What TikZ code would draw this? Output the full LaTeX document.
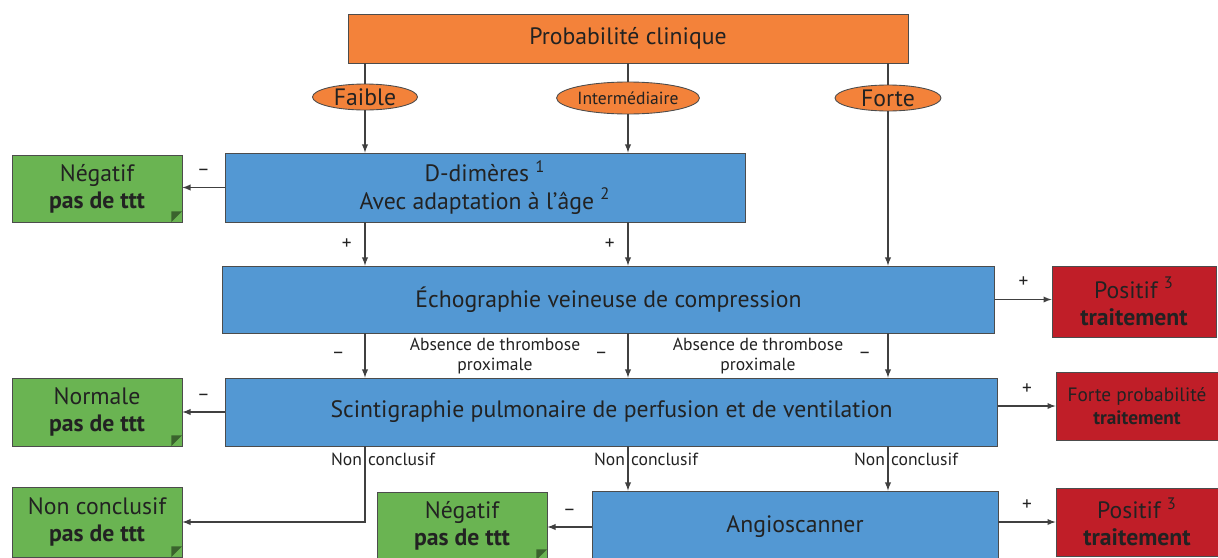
\documentclass[tikz,border=0pt]{standalone}
\usepackage{fontspec}
\setmainfont{PT Sans}
\usetikzlibrary{shapes.geometric}

\definecolor{probcol}{HTML}{F3823A}
\definecolor{examcol}{HTML}{5398D3}
\definecolor{negcol}{HTML}{6AB452}
\definecolor{poscol}{HTML}{C01E28}
\definecolor{txtcol}{HTML}{222222}

\newcommand{\bigtxt}{\fontsize{13.5}{15.5}\selectfont}
\newcommand{\midtxt}{\fontsize{10}{11.5}\selectfont}

\begin{document}
\begin{tikzpicture}[x=0.02cm, y=-0.02cm, >=latex,
  box/.style={draw=black!70, line width=0.5pt, inner sep=0pt, align=center, text=txtcol, font=\bigtxt},
  probbox/.style={box, fill=probcol},
  exambox/.style={box, fill=examcol},
  negbox/.style={box, fill=negcol, minimum width=3.4cm,
    path picture={\fill[negcol!55!black] ([xshift=-6pt]path picture bounding box.south east)
      -- ([yshift=6pt]path picture bounding box.south east)
      -- ([xshift=-6pt,yshift=6pt]path picture bounding box.south east) -- cycle;}},
  posbox/.style={box, fill=poscol},
  level/.style={ellipse, draw=black!70, line width=0.5pt, fill=probcol, inner sep=0pt, text=txtcol},
  link/.style={draw=black!75, line width=0.6pt},
  sign/.style={text=txtcol, font=\fontsize{11}{12}\selectfont},
  note/.style={text=txtcol, font=\midtxt, align=center}]

 \useasboundingbox (0,0) rectangle (1218,558);

 % probabilite clinique
 \node[probbox, minimum width=11.2cm, minimum height=0.98cm] (prob) at (628,38.5) {Probabilité clinique};
 \node[level, minimum width=2.1cm, minimum height=0.52cm, font=\bigtxt] (fa) at (365,97) {Faible};
 \node[level, minimum width=2.48cm, minimum height=0.64cm, font=\fontsize{10}{12}\selectfont] (im) at (628,98) {Intermédiaire};
 \node[level, minimum width=2.12cm, minimum height=0.52cm, font=\bigtxt] (fo) at (888,98) {Forte};

 % examens
 \node[exambox, minimum width=10.4cm, minimum height=1.38cm] (dd) at (485,187.5)
   {D-dimères \textsuperscript{1}\\Avec adaptation à l’âge \textsuperscript{2}};
 \node[exambox, minimum width=15.46cm, minimum height=1.34cm] (echo) at (608.5,299.5)
   {Échographie veineuse de compression};
 \node[exambox, minimum width=15.46cm, minimum height=1.36cm] (sc) at (611.5,412)
   {Scintigraphie pulmonaire de perfusion et de ventilation};
 \node[exambox, minimum width=8.12cm, minimum height=1.44cm] (angio) at (795,527) {Angioscanner};

 % resultats
 \node[negbox, minimum height=1.34cm] (neg1) at (97,188.5) {Négatif\\\textbf{pas de ttt}};
 \node[negbox, minimum height=1.36cm] (norm) at (97,412) {Normale\\\textbf{pas de ttt}};
 \node[negbox, minimum height=1.4cm] (nc) at (97,522) {Non conclusif\\\textbf{pas de ttt}};
 \node[negbox, minimum height=1.36cm] (neg2) at (462,526) {Négatif\\\textbf{pas de ttt}};
 \node[posbox, minimum width=3.28cm, minimum height=1.42cm] (pos1) at (1134,301.5) {Positif \textsuperscript{3}\\\textbf{traitement}};
 \node[posbox, minimum width=3.24cm, minimum height=1.36cm, font=\fontsize{11}{13}\selectfont] (fp) at (1137,406) {Forte probabilité\\\textbf{traitement}};
 \node[posbox, minimum width=3.24cm, minimum height=1.36cm] (pos2) at (1137,522) {Positif \textsuperscript{3}\\\textbf{traitement}};

 % liens
 \draw[link] (prob.south -| fa) -- (fa.north);
 \draw[link] (prob.south -| im) -- (im.north);
 \draw[link] (prob.south -| fo) -- (fo.north);
 \draw[link, ->] (fa.south) -- (dd.north -| fa);
 \draw[link, ->] (im.south) -- (dd.north -| im);
 \draw[link, ->] (fo.south) -- (echo.north -| fo);

 \draw[link, ->] (dd.west) -- (neg1.east |- dd.west) node[sign, midway, above=3pt] {–};
 \draw[link, ->] (dd.south -| fa) -- (echo.north -| fa) node[sign, midway, left=4pt] {+};
 \draw[link, ->] (dd.south -| im) -- (echo.north -| im) node[sign, midway, left=4pt] {+};

 \draw[link, ->] (echo.east) -- (echo.east -| pos1.west) node[sign, midway, above=3pt] {+};
 \draw[link, ->] (echo.south -| fa) -- (sc.north -| fa) node[sign, midway, left=8pt] {–};
 \draw[link, ->] (echo.south -| im) -- (sc.north -| im) node[sign, midway, left=8pt] {–};
 \draw[link, ->] (echo.south -| fo) -- (sc.north -| fo) node[sign, midway, left=6pt] {–};
 \node[note] (abs1) at (495,356) {Absence de thrombose\\proximale};
 \node[note] (abs2) at (758,356) {Absence de thrombose\\proximale};

 \draw[link, ->] (sc.west) -- (norm.east) node[sign, midway, above=3pt] {–};
 \draw[link, ->] (sc.east |- fp.west) -- (fp.west) node[sign, midway, above=3pt] {+};
 \draw[link, ->] (sc.south -| fa) |- (nc.east);
 \draw[link, ->] (sc.south -| im) -- (angio.north -| im);
 \draw[link, ->] (sc.south -| fo) -- (angio.north -| fo);
 \node[note, anchor=east, inner sep=1pt] (non1) at (364,459) {Non};
 \node[note, anchor=west, inner sep=1pt] (con1) at (366,459) {conclusif};
 \node[note, anchor=east, inner sep=1pt] (non2) at (627,459) {Non};
 \node[note, anchor=west, inner sep=1pt] (con2) at (629,459) {conclusif};
 \node[note, anchor=east, inner sep=1pt] (non3) at (887,459) {Non};
 \node[note, anchor=west, inner sep=1pt] (con3) at (889,459) {conclusif};

 \draw[link, ->] (angio.west) -- (angio.west -| neg2.east) node[sign, midway, above=3pt] {–};
 \draw[link, ->] (pos2.west -| angio.east) -- (pos2.west) node[sign, midway, above=3pt] {+};
\end{tikzpicture}
\end{document}
